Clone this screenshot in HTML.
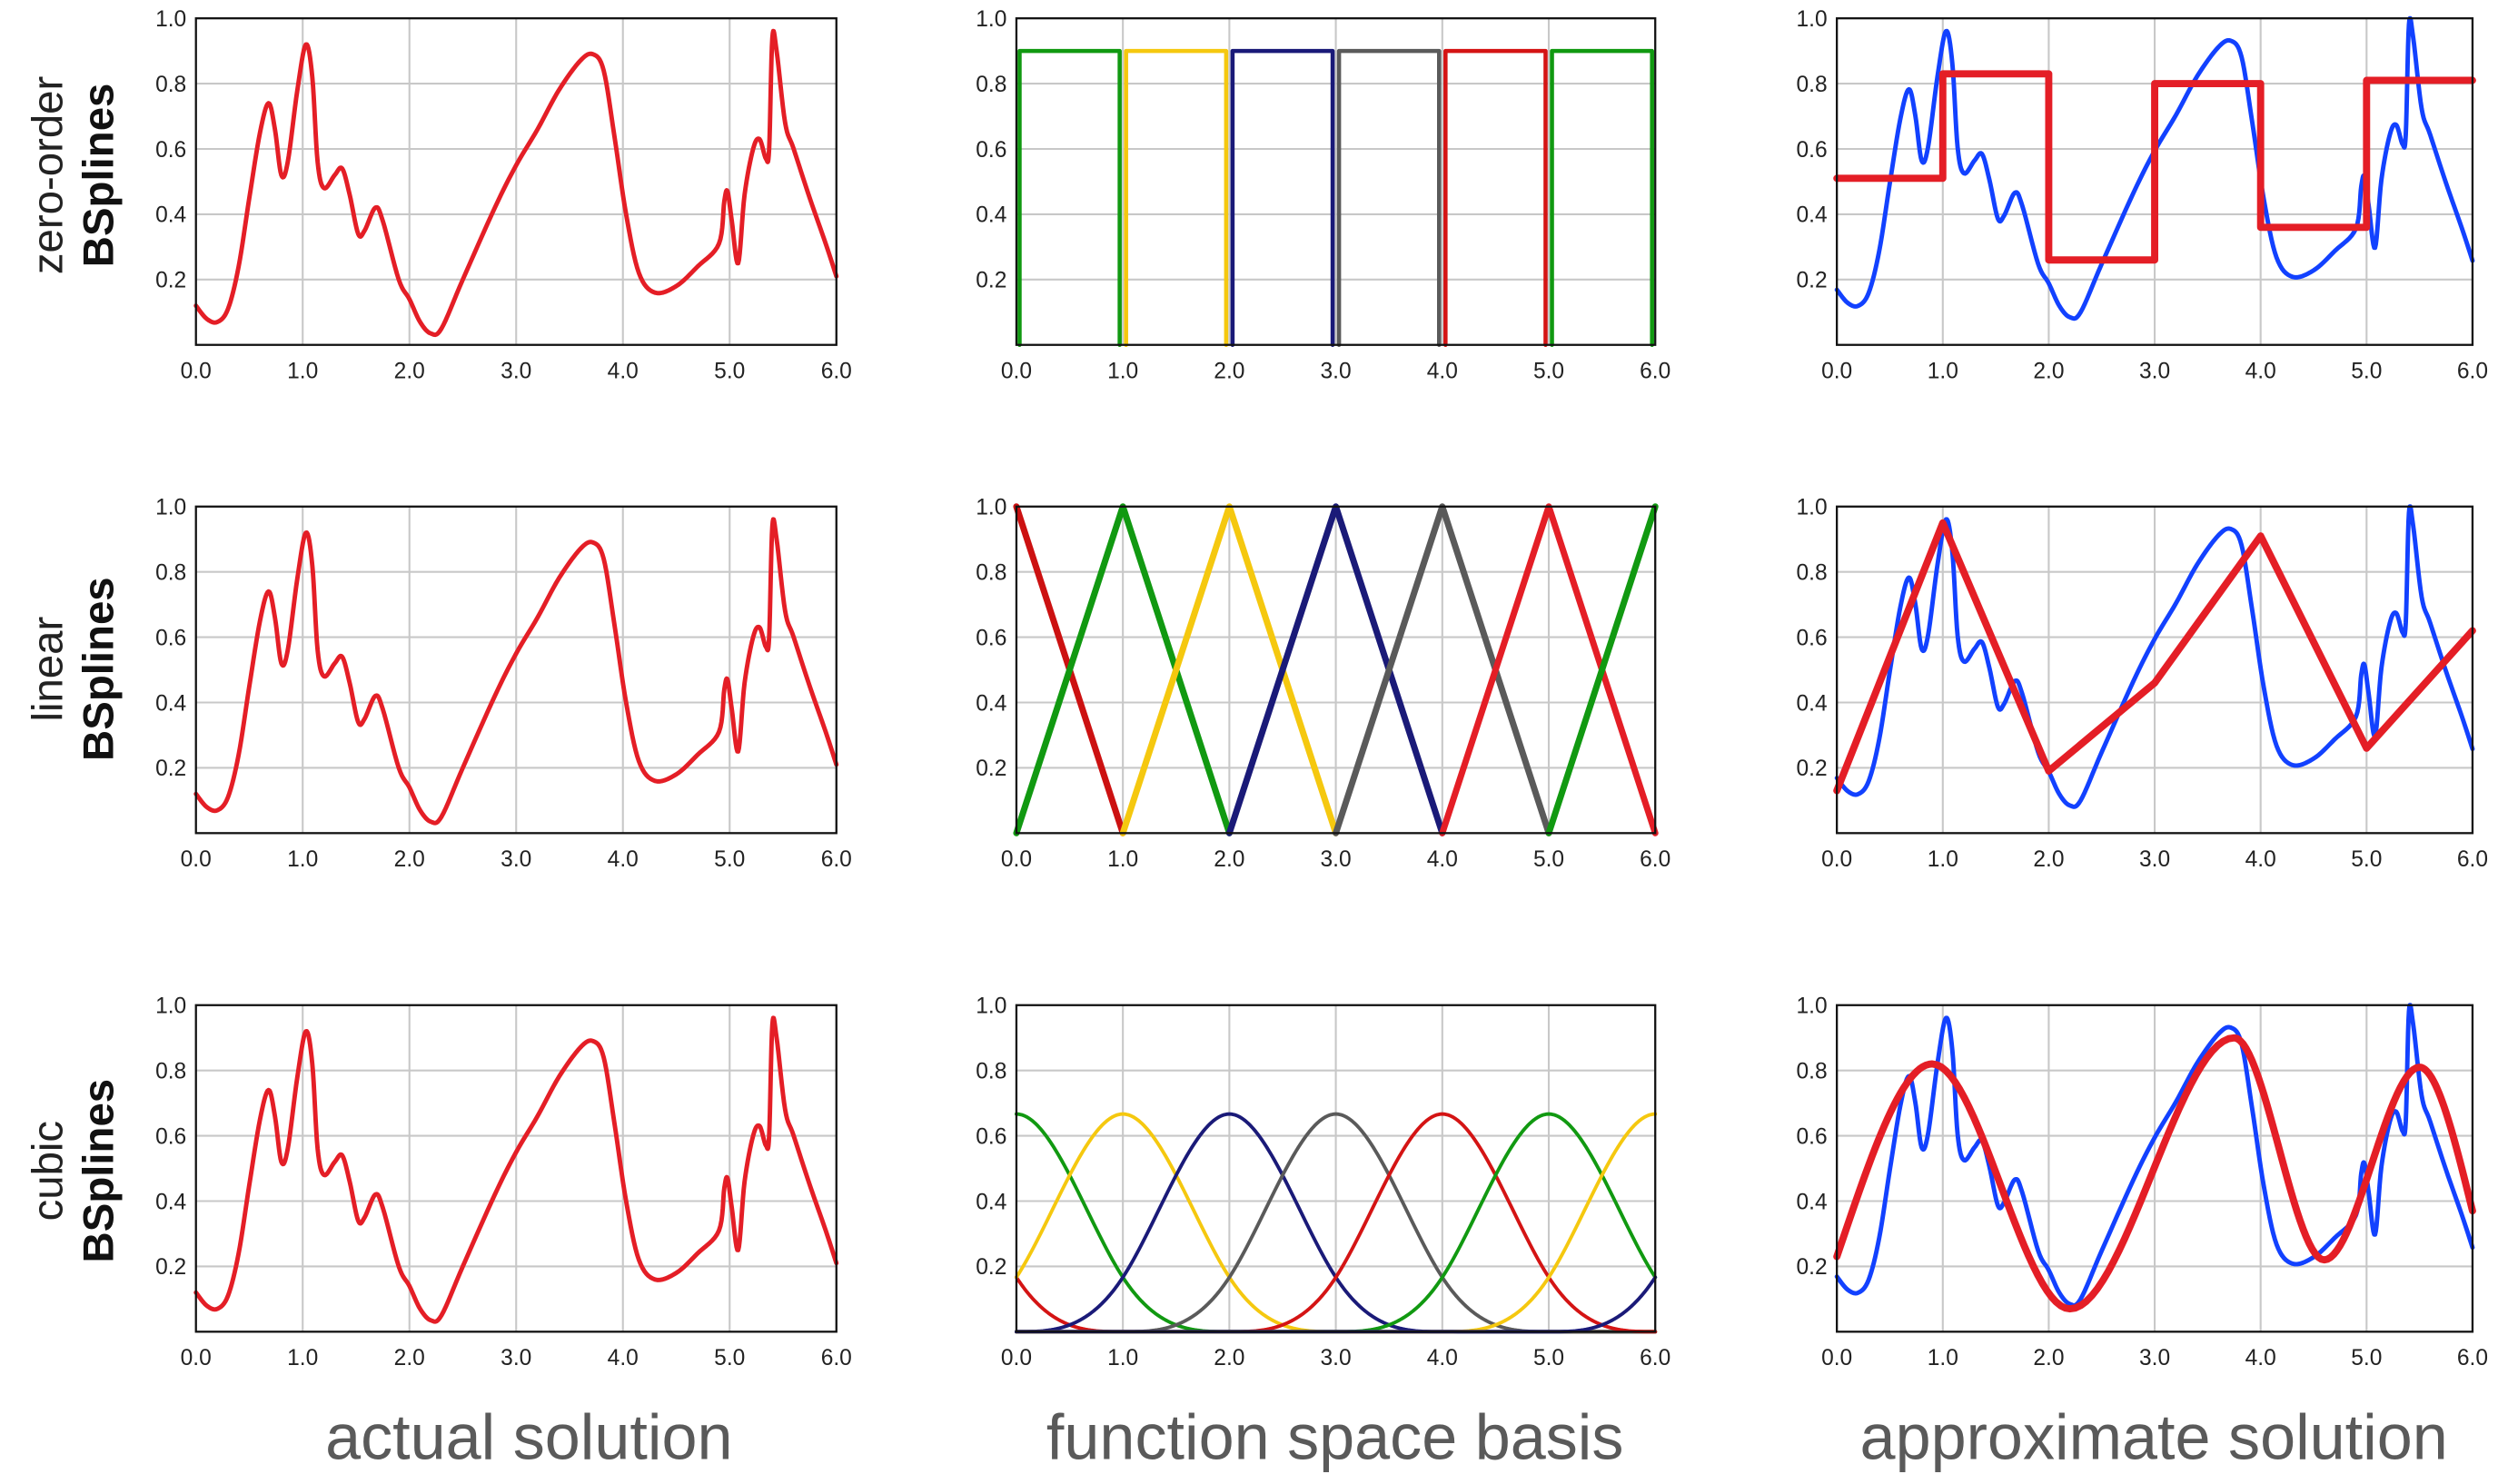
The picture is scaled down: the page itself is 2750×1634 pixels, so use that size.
<!DOCTYPE html>
<html><head><meta charset="utf-8">
<style>
html,body{margin:0;padding:0;background:#fff;}
svg{display:block;}
text{font-family:"Liberation Sans",sans-serif;}
</style></head>
<body>
<svg id="s" width="2750" height="1634" viewBox="0 0 1568 931.6" preserveAspectRatio="none" xmlns="http://www.w3.org/2000/svg"></svg>
<script>
var S=document.getElementById('s');var NS='http://www.w3.org/2000/svg';
function el(t,a,txt){var e=document.createElementNS(NS,t);for(var k in a)e.setAttribute(k,a[k]);if(txt!==undefined)e.textContent=txt;S.appendChild(e);return e;}
var cols=[123,638,1153],colR=[525,1039,1552],rows=[11.5,318,631],H=205;
function X(c,x){return cols[c]+(colR[c]-cols[c])*x/6;}
function Y(r,v){return rows[r]+H*(1-v);}
var P=[[0,0.12],[0.1,0.08],[0.2,0.07],[0.3,0.11],[0.4,0.24],[0.5,0.45],[0.6,0.65],[0.68,0.74],[0.74,0.66],[0.8,0.52],[0.86,0.56],[0.95,0.78],[1.03,0.92],[1.09,0.82],[1.14,0.56],[1.2,0.48],[1.3,0.52],[1.37,0.54],[1.44,0.46],[1.52,0.34],[1.58,0.35],[1.68,0.42],[1.75,0.38],[1.9,0.2],[2.0,0.14],[2.1,0.07],[2.2,0.035],[2.3,0.05],[2.5,0.2],[2.8,0.42],[3.0,0.55],[3.2,0.66],[3.4,0.78],[3.6,0.87],[3.72,0.89],[3.82,0.84],[3.92,0.64],[4.03,0.4],[4.15,0.22],[4.3,0.16],[4.5,0.18],[4.7,0.24],[4.9,0.31],[4.95,0.44],[4.98,0.47],[5.02,0.38],[5.08,0.25],[5.14,0.46],[5.22,0.6],[5.28,0.63],[5.34,0.57],[5.37,0.6],[5.4,0.94],[5.44,0.9],[5.52,0.68],[5.6,0.6],[5.75,0.45],[5.9,0.31],[6.0,0.21]];
function cr(pts,n){var o=[];for(var i=0;i<pts.length-1;i++){var p0=pts[Math.max(0,i-1)],p1=pts[i],p2=pts[i+1],p3=pts[Math.min(pts.length-1,i+2)];for(var k=0;k<n;k++){var t=k/n,t2=t*t,t3=t2*t;var f=function(a,b,c,d){return 0.5*(2*b+(-a+c)*t+(2*a-5*b+4*c-d)*t2+(-a+3*b-3*c+d)*t3);};o.push([f(p0[0],p1[0],p2[0],p3[0]),f(p0[1],p1[1],p2[1],p3[1])]);}}o.push(pts[pts.length-1]);return o;}
var F=cr(P,8);
function path(c,r,pts,col,w){var d='';pts.forEach(function(p,i){d+=(i?'L':'M')+X(c,p[0]).toFixed(2)+' '+Y(r,p[1]).toFixed(2);});el('path',{d:d,fill:'none',stroke:col,'stroke-width':w,'stroke-linejoin':'round','stroke-linecap':'round'});}
for(var r=0;r<3;r++)for(var c=0;c<3;c++){
 var x0=cols[c],x1=colR[c],y0=rows[r],y1=rows[r]+H;
 for(var i=1;i<6;i++)el('line',{x1:X(c,i),x2:X(c,i),y1:y0,y2:y1,stroke:'#c8c8c8','stroke-width':1.2});
 for(var j=1;j<5;j++)el('line',{x1:x0,x2:x1,y1:Y(r,j*0.2),y2:Y(r,j*0.2),stroke:'#c8c8c8','stroke-width':1.2});
 for(var j=1;j<=5;j++)el('text',{x:x0-6,y:Y(r,j*0.2)+5,'font-size':14,'text-anchor':'end',fill:'#222'},(j*0.2).toFixed(1));
 for(var i=0;i<=6;i++)el('text',{x:X(c,i),y:y1+21,'font-size':14,'text-anchor':'middle',fill:'#222'},i.toFixed(1));
 if(c==0)path(0,r,F,'#e41e26',2.8);
 if(c==2){
  path(2,r,F.map(function(p){return [p[0],Math.min(1,0.05+0.99*p[1])];}),'#1241ff',2.8);
  if(r==0){var st=[0.51,0.83,0.26,0.80,0.36,0.81],pts=[];for(var k=0;k<6;k++){pts.push([k,st[k]]);pts.push([k+1,st[k]]);}path(2,0,pts,'#e41e26',4.5);}
  if(r==1)path(2,1,[[0,0.13],[1,0.95],[2,0.19],[3,0.46],[4,0.91],[5,0.26],[6,0.62]],'#e41e26',4.5);
  if(r==2){var K=[[0,0.23,0.95],[0.9,0.82,0],[2.2,0.07,0],[3.75,0.9,0],[4.6,0.22,0],[5.5,0.81,0],[6,0.37,-1.3]],pts=[];
   for(var k=0;k<K.length-1;k++){var a=K[k],b=K[k+1],h=b[0]-a[0];for(var n=0;n<30;n++){var t=n/30;var h00=2*t*t*t-3*t*t+1,h10=t*t*t-2*t*t+t,h01=-2*t*t*t+3*t*t,h11=t*t*t-t*t;pts.push([a[0]+h*t,h00*a[1]+h10*h*a[2]+h01*b[1]+h11*h*b[2]]);}}
   pts.push([6,0.37]);path(2,2,pts,'#e41e26',4.5);}
 }
 if(c==1){
  if(r==0){for(var k=0;k<6;k++){var cc=['#119911','#f5c80f','#1a1a78','#5a5a5a','#d41414','#119911'][k];path(1,0,[[k+0.03,0],[k+0.03,0.9],[k+0.97,0.9],[k+0.97,0]],cc,2.6);}}
  if(r==1){var hc=['#cc1111','#119911','#f5c80f','#1a1a78','#5a5a5a','#e41e26','#119911'];for(var k=0;k<=6;k++){path(1,1,[[Math.max(0,k-1),0],[k,1],[Math.min(6,k+1),0]].filter(function(p,i){return !(k==0&&i==0)&&!(k==6&&i==2);}),hc[k],4);}}
  if(r==2){var bc={'-1':'#d41414',0:'#119911',1:'#f5c80f',2:'#1a1a78',3:'#5a5a5a',4:'#d41414',5:'#119911',6:'#f5c80f',7:'#1a1a78'};
   function B(u){u=Math.abs(u);if(u>=2)return 0;if(u>=1)return Math.pow(2-u,3)/6;return 2/3-u*u+u*u*u/2;}
   for(var k=-1;k<=7;k++){var pts=[];for(var n=0;n<=240;n++){var x=n*6/240;pts.push([x,B(x-k)]);}path(1,2,pts,bc[k],2.2);}}
 }
 el('rect',{x:x0,y:y0,width:x1-x0,height:H,fill:'none',stroke:'#111','stroke-width':1.3});
}
var rl=[['zero-order',110],['linear',420],['cubic',735]];
rl.forEach(function(a){el('text',{x:0,y:0,'font-size':27,'text-anchor':'middle',fill:'#222',transform:'translate(39,'+a[1]+') rotate(-90)'},a[0]);
 el('text',{x:0,y:0,'font-size':27,'font-weight':'bold','text-anchor':'middle',fill:'#111',transform:'translate(71,'+a[1]+') rotate(-90)'},'BSplines');});
[['actual solution',332],['function space basis',838],['approximate solution',1352]].forEach(function(a){el('text',{x:a[1],y:916,'font-size':40,'text-anchor':'middle',fill:'#5a5a5a'},a[0]);});
</script>
</body></html>
